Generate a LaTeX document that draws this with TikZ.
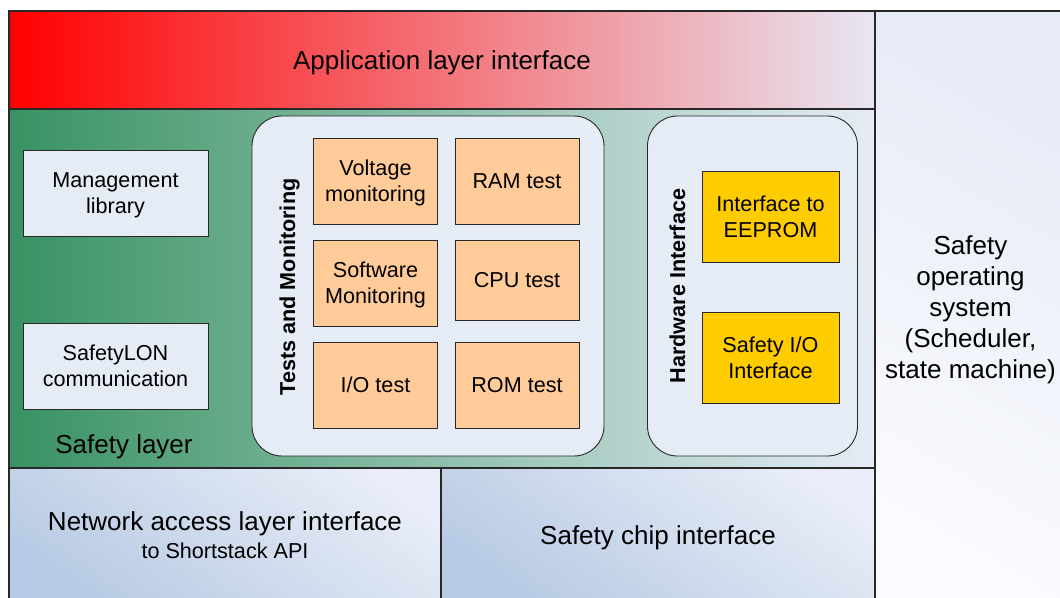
\documentclass[tikz,border=0pt]{standalone}
\usepackage{fontspec}
\setmainfont{Liberation Sans}
\definecolor{appR}{RGB}{232,230,242}
\definecolor{grnL}{RGB}{56,146,98}
\definecolor{grnR}{RGB}{230,236,246}
\definecolor{paleblue}{RGB}{232,237,247}
\definecolor{nalDark}{RGB}{184,202,228}
\definecolor{osTop}{RGB}{230,235,246}
\definecolor{osBot}{RGB}{250,251,254}
\definecolor{lightfill}{RGB}{230,236,246}
\definecolor{orangebox}{RGB}{255,204,153}
\definecolor{yellowbox}{RGB}{255,204,0}
\definecolor{edge}{RGB}{40,40,40}
\newcommand{\bigfont}{\fontsize{26}{31.2}\selectfont}
\newcommand{\boxfont}{\fontsize{21.6}{26}\selectfont}
\begin{document}
\begin{tikzpicture}[x=1pt,y=-1pt,
  every node/.style={inner sep=0pt, outer sep=0pt, text=black},
  panel/.style={draw=edge, line width=1.3pt, anchor=north west, font=\bigfont, align=center, text depth=0pt},
  lightbox/.style={draw=edge, line width=0.9pt, fill=lightfill, minimum width=185pt, minimum height=86pt, font=\boxfont, align=center, text depth=0pt},
  groupbox/.style={draw=edge, line width=0.9pt, fill=lightfill, rounded corners=30pt, minimum height=340pt},
  testbox/.style={draw=edge, line width=0.9pt, fill=orangebox, minimum width=124pt, minimum height=86pt, font=\boxfont, align=center, text depth=0pt},
  hwbox/.style={draw=edge, line width=0.9pt, fill=yellowbox, minimum width=137pt, minimum height=91pt, font=\boxfont, align=center, text depth=0pt},
  sidelabel/.style={rotate=90, font=\boxfont\bfseries}
]
\useasboundingbox (0,0) rectangle (1060,597);
\clip (0,0) rectangle (1060,597);

% layers
\node[panel, minimum width=866pt, minimum height=98pt, left color=red, right color=appR] (app) at (9,11) {Application layer interface};
\node[panel, minimum width=866pt, minimum height=359pt, left color=grnL, right color=grnR] (safety) at (9,109) {};
\node[panel, minimum width=432pt, minimum height=134pt, top color=paleblue, bottom color=nalDark, shading angle=-35] (nal) at (9,468)
  {\bigfont Network access layer interface\\[-4pt]\boxfont to Shortstack API};
\node[panel, minimum width=434pt, minimum height=134pt, top color=paleblue, bottom color=nalDark, shading angle=-35] (chip) at (441,468) {Safety chip interface};
\node[panel, minimum width=191pt, minimum height=592pt, top color=osTop, bottom color=osBot, shading angle=-30] (os) at (875,11)
  {Safety\\operating\\system\\(Scheduler,\\state machine)};

\node[font=\bigfont, text depth=0pt] (sltext) at (124,444) {Safety layer};

% left boxes
\node[lightbox] (mgmt) at (115.5,193) {Management\\library};
\node[lightbox] (slon) at (115.5,366) {SafetyLON\\communication};

% groups
\node[groupbox, minimum width=352pt] (tests) at (428,286) {};
\node[groupbox, minimum width=210pt] (hw) at (752.5,286) {};

\node[sidelabel] (tlabel) at (289.5,287) {Tests and Monitoring};
\node[sidelabel] (hlabel) at (677.5,286) {Hardware Interface};

% tests
\node[testbox] (vm) at (375.5,181) {Voltage\\monitoring};
\node[testbox] (ram) at (517,181) {RAM test};
\node[testbox] (sw) at (375.5,283) {Software\\Monitoring};
\node[testbox, minimum height=80pt] (cpu) at (517,280) {CPU test};
\node[testbox] (io) at (375.5,385) {I/O test};
\node[testbox] (rom) at (517,385) {ROM test};

% hardware
\node[hwbox] (eep) at (770.5,217) {Interface to\\EEPROM};
\node[hwbox] (sio) at (770.5,358) {Safety I/O\\Interface};
\end{tikzpicture}
\end{document}
